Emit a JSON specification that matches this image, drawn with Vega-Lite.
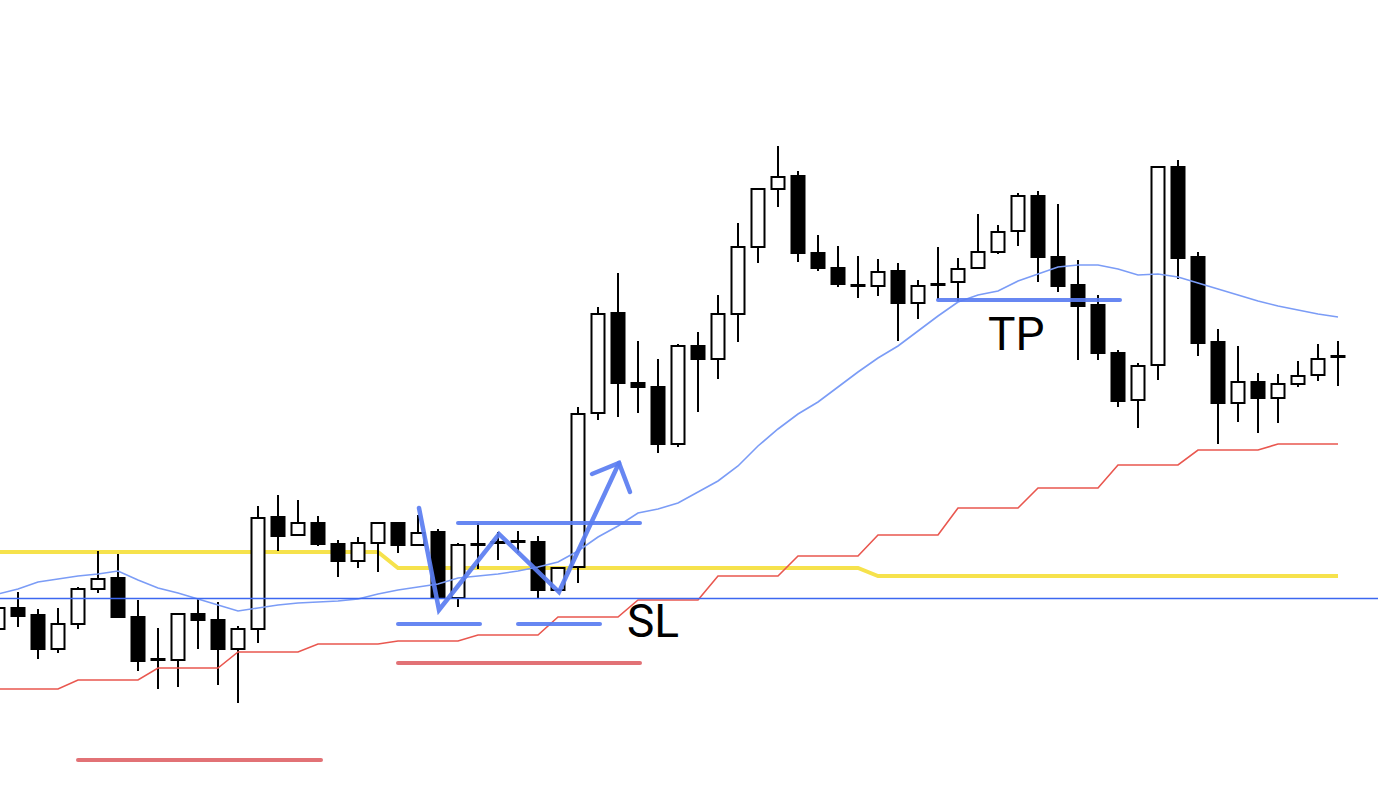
{
  "$schema": "https://vega.github.io/schema/vega-lite/v6.json",
  "width": 1378,
  "height": 812,
  "autosize": {"type": "none"},
  "padding": 0,
  "background": "white",
  "config": {"view": {"stroke": null}},
  "datasets": {
    "candles": [
      {"i":0,"o":183,"h":208,"l":179,"c":204,"ma":218,"yl":260,"rd":123},
      {"i":1,"o":204,"h":220,"l":185,"c":196,"ma":223,"yl":260,"rd":123},
      {"i":2,"o":197,"h":203,"l":153,"c":163,"ma":230,"yl":260,"rd":123},
      {"i":3,"o":163,"h":204,"l":159,"c":188,"ma":233,"yl":260,"rd":123},
      {"i":4,"o":188,"h":225,"l":183,"c":223,"ma":236,"yl":260,"rd":132},
      {"i":5,"o":223,"h":261,"l":219,"c":233,"ma":238,"yl":260,"rd":132},
      {"i":6,"o":234,"h":258,"l":195,"c":195,"ma":241,"yl":260,"rd":132},
      {"i":7,"o":195,"h":212,"l":141,"c":151,"ma":232,"yl":260,"rd":132},
      {"i":8,"o":153,"h":184,"l":123,"c":152,"ma":224,"yl":260,"rd":144},
      {"i":9,"o":152,"h":199,"l":125,"c":198,"ma":219,"yl":260,"rd":144},
      {"i":10,"o":198,"h":213,"l":163,"c":192,"ma":213,"yl":260,"rd":144},
      {"i":11,"o":192,"h":210,"l":127,"c":163,"ma":207,"yl":260,"rd":144},
      {"i":12,"o":163,"h":186,"l":109,"c":183,"ma":201,"yl":260,"rd":160},
      {"i":13,"o":183,"h":306,"l":169,"c":294,"ma":204,"yl":260,"rd":160},
      {"i":14,"o":295,"h":317,"l":261,"c":276,"ma":207,"yl":260,"rd":160},
      {"i":15,"o":277,"h":312,"l":277,"c":289,"ma":209,"yl":260,"rd":160},
      {"i":16,"o":289,"h":296,"l":266,"c":268,"ma":210,"yl":260,"rd":168},
      {"i":17,"o":268,"h":272,"l":235,"c":251,"ma":211,"yl":260,"rd":168},
      {"i":18,"o":251,"h":275,"l":244,"c":269,"ma":213,"yl":260,"rd":168},
      {"i":19,"o":269,"h":289,"l":240,"c":289,"ma":218,"yl":260,"rd":168},
      {"i":20,"o":289,"h":289,"l":259,"c":267,"ma":222,"yl":244,"rd":171},
      {"i":21,"o":267,"h":297,"l":266,"c":279,"ma":225,"yl":244,"rd":171},
      {"i":22,"o":280,"h":283,"l":214,"c":214,"ma":228,"yl":244,"rd":171},
      {"i":23,"o":214,"h":269,"l":205,"c":267,"ma":234,"yl":244,"rd":171},
      {"i":24,"o":267,"h":289,"l":243,"c":268,"ma":236,"yl":244,"rd":177},
      {"i":25,"o":269,"h":280,"l":252,"c":270,"ma":238,"yl":244,"rd":177},
      {"i":26,"o":270,"h":281,"l":259,"c":271,"ma":241,"yl":244,"rd":177},
      {"i":27,"o":270,"h":276,"l":214,"c":222,"ma":245,"yl":244,"rd":177},
      {"i":28,"o":222,"h":245,"l":221,"c":244,"ma":250,"yl":244,"rd":195},
      {"i":29,"o":245,"h":405,"l":229,"c":398,"ma":261,"yl":244,"rd":195},
      {"i":30,"o":399,"h":505,"l":392,"c":498,"ma":275,"yl":244,"rd":195},
      {"i":31,"o":499,"h":539,"l":395,"c":429,"ma":286,"yl":244,"rd":195},
      {"i":32,"o":429,"h":471,"l":399,"c":425,"ma":299,"yl":244,"rd":212},
      {"i":33,"o":425,"h":453,"l":359,"c":368,"ma":303,"yl":244,"rd":212},
      {"i":34,"o":368,"h":468,"l":365,"c":466,"ma":309,"yl":244,"rd":212},
      {"i":35,"o":466,"h":480,"l":400,"c":453,"ma":320,"yl":244,"rd":212},
      {"i":36,"o":453,"h":517,"l":433,"c":498,"ma":331,"yl":244,"rd":236},
      {"i":37,"o":498,"h":589,"l":470,"c":565,"ma":346,"yl":244,"rd":236},
      {"i":38,"o":565,"h":623,"l":549,"c":623,"ma":366,"yl":244,"rd":236},
      {"i":39,"o":623,"h":666,"l":605,"c":635,"ma":383,"yl":244,"rd":236},
      {"i":40,"o":636,"h":641,"l":550,"c":559,"ma":398,"yl":244,"rd":256},
      {"i":41,"o":559,"h":577,"l":541,"c":544,"ma":410,"yl":244,"rd":256},
      {"i":42,"o":544,"h":566,"l":525,"c":528,"ma":425,"yl":244,"rd":256},
      {"i":43,"o":527,"h":556,"l":514,"c":526,"ma":440,"yl":244,"rd":256},
      {"i":44,"o":526,"h":553,"l":516,"c":540,"ma":454,"yl":236,"rd":277},
      {"i":45,"o":541,"h":549,"l":471,"c":509,"ma":466,"yl":236,"rd":277},
      {"i":46,"o":509,"h":532,"l":493,"c":526,"ma":481,"yl":236,"rd":277},
      {"i":47,"o":528,"h":565,"l":513,"c":527,"ma":496,"yl":236,"rd":277},
      {"i":48,"o":530,"h":554,"l":511,"c":543,"ma":510,"yl":236,"rd":304},
      {"i":49,"o":544,"h":598,"l":544,"c":560,"ma":517,"yl":236,"rd":304},
      {"i":50,"o":560,"h":587,"l":558,"c":580,"ma":521,"yl":236,"rd":304},
      {"i":51,"o":581,"h":619,"l":566,"c":616,"ma":531,"yl":236,"rd":304},
      {"i":52,"o":616,"h":621,"l":530,"c":555,"ma":538,"yl":236,"rd":324},
      {"i":53,"o":555,"h":608,"l":520,"c":526,"ma":545,"yl":236,"rd":324},
      {"i":54,"o":527,"h":552,"l":452,"c":506,"ma":547,"yl":236,"rd":324},
      {"i":55,"o":507,"h":517,"l":452,"c":459,"ma":547,"yl":236,"rd":324},
      {"i":56,"o":459,"h":462,"l":405,"c":411,"ma":543,"yl":236,"rd":347},
      {"i":57,"o":412,"h":449,"l":384,"c":446,"ma":537,"yl":236,"rd":347},
      {"i":58,"o":447,"h":645,"l":432,"c":645,"ma":538,"yl":236,"rd":347},
      {"i":59,"o":645,"h":652,"l":533,"c":554,"ma":535,"yl":236,"rd":347},
      {"i":60,"o":555,"h":560,"l":456,"c":469,"ma":529,"yl":236,"rd":362},
      {"i":61,"o":470,"h":483,"l":368,"c":409,"ma":523,"yl":236,"rd":362},
      {"i":62,"o":409,"h":466,"l":390,"c":430,"ma":517,"yl":236,"rd":362},
      {"i":63,"o":430,"h":439,"l":379,"c":414,"ma":511,"yl":236,"rd":362},
      {"i":64,"o":414,"h":438,"l":389,"c":428,"ma":506,"yl":236,"rd":368},
      {"i":65,"o":428,"h":451,"l":425,"c":436,"ma":502,"yl":236,"rd":368},
      {"i":66,"o":437,"h":468,"l":431,"c":453,"ma":498,"yl":236,"rd":368},
      {"i":67,"o":455,"h":471,"l":426,"c":456,"ma":495,"yl":236,"rd":368}
    ],
    "levels": [
      {"p": 213.5}
    ],
    "segs": [
      {"x1":4.0,"x2":16.15,"p":52,"kind":"red"},
      {"x1":20.0,"x2":32.1,"p":149,"kind":"red"},
      {"x1":20.0,"x2":24.1,"p":188,"kind":"blue"},
      {"x1":26.0,"x2":30.1,"p":188,"kind":"blue"},
      {"x1":23.0,"x2":32.1,"p":289,"kind":"blue"},
      {"x1":47.0,"x2":56.1,"p":512,"kind":"blue"}
    ],
    "zig": [
      {"g":"zz","ord":1,"x":21.05,"p":304},
      {"g":"zz","ord":2,"x":22.05,"p":202},
      {"g":"zz","ord":3,"x":25.05,"p":278},
      {"g":"zz","ord":4,"x":28.05,"p":220},
      {"g":"zz","ord":5,"x":31.05,"p":349},
      {"g":"ah","ord":1,"x":29.7,"p":338},
      {"g":"ah","ord":2,"x":31.05,"p":349},
      {"g":"ah","ord":3,"x":31.6,"p":320}
    ],
    "labels": [
      {"x":49.5,"p":462,"t":"TP"},
      {"x":31.45,"p":175,"t":"SL"}
    ]
  },
  "layer": [
    {
      "data": {"name": "candles"},
      "mark": {"type": "line", "color": "#f6e24c", "strokeWidth": 4, "clip": true},
      "encoding": {
        "x": {"field": "i", "type": "quantitative", "scale": {"domain": [0.1, 69.0], "nice": false, "zero": false, "padding": 0}, "axis": null},
        "y": {"field": "yl", "type": "quantitative", "scale": {"domain": [0, 812], "nice": false, "zero": false, "padding": 0}, "axis": null}
      }
    },
    {
      "data": {"name": "candles"},
      "mark": {"type": "rule", "color": "#000000", "strokeWidth": 2, "clip": true},
      "encoding": {
        "x": {"field": "i", "type": "quantitative"},
        "y": {"field": "l", "type": "quantitative"},
        "y2": {"field": "h"}
      }
    },
    {
      "data": {"name": "candles"},
      "mark": {"type": "bar", "width": 13, "stroke": "#000000", "strokeWidth": 2, "clip": true},
      "encoding": {
        "x": {"field": "i", "type": "quantitative"},
        "y": {"field": "o", "type": "quantitative"},
        "y2": {"field": "c"},
        "fill": {"condition": {"test": "datum.c > datum.o", "value": "#ffffff"}, "value": "#000000"}
      }
    },
    {
      "data": {"name": "candles"},
      "mark": {"type": "line", "color": "#e9574f", "strokeWidth": 1.6, "clip": true},
      "encoding": {
        "x": {"field": "i", "type": "quantitative"},
        "y": {"field": "rd", "type": "quantitative"}
      }
    },
    {
      "data": {"name": "candles"},
      "mark": {"type": "line", "color": "#7b9cf6", "strokeWidth": 1.6, "clip": true},
      "encoding": {
        "x": {"field": "i", "type": "quantitative"},
        "y": {"field": "ma", "type": "quantitative"}
      }
    },
    {
      "data": {"name": "levels"},
      "mark": {"type": "rule", "color": "#3c67f0", "strokeWidth": 1.6, "clip": true},
      "encoding": {"y": {"field": "p", "type": "quantitative"}}
    },
    {
      "data": {"name": "segs"},
      "mark": {"type": "rule", "strokeWidth": 4, "strokeCap": "round", "opacity": 0.92, "clip": true},
      "encoding": {
        "x": {"field": "x1", "type": "quantitative"},
        "x2": {"field": "x2"},
        "y": {"field": "p", "type": "quantitative"},
        "color": {"field": "kind", "type": "nominal", "scale": {"domain": ["red", "blue"], "range": ["#e0666a", "#5a7df1"]}, "legend": null}
      }
    },
    {
      "data": {"name": "zig"},
      "mark": {"type": "line", "color": "#5a7df1", "strokeWidth": 4.5, "strokeCap": "round", "strokeJoin": "miter", "opacity": 0.92, "clip": true},
      "encoding": {
        "x": {"field": "x", "type": "quantitative"},
        "y": {"field": "p", "type": "quantitative"},
        "detail": {"field": "g", "type": "nominal"},
        "order": {"field": "ord", "type": "quantitative"}
      }
    },
    {
      "data": {"name": "labels"},
      "mark": {"type": "text", "font": "Roboto", "fontSize": 46, "align": "left", "baseline": "alphabetic", "color": "#000000", "clip": true},
      "encoding": {
        "x": {"field": "x", "type": "quantitative"},
        "y": {"field": "p", "type": "quantitative"},
        "text": {"field": "t"}
      }
    }
  ]
}
